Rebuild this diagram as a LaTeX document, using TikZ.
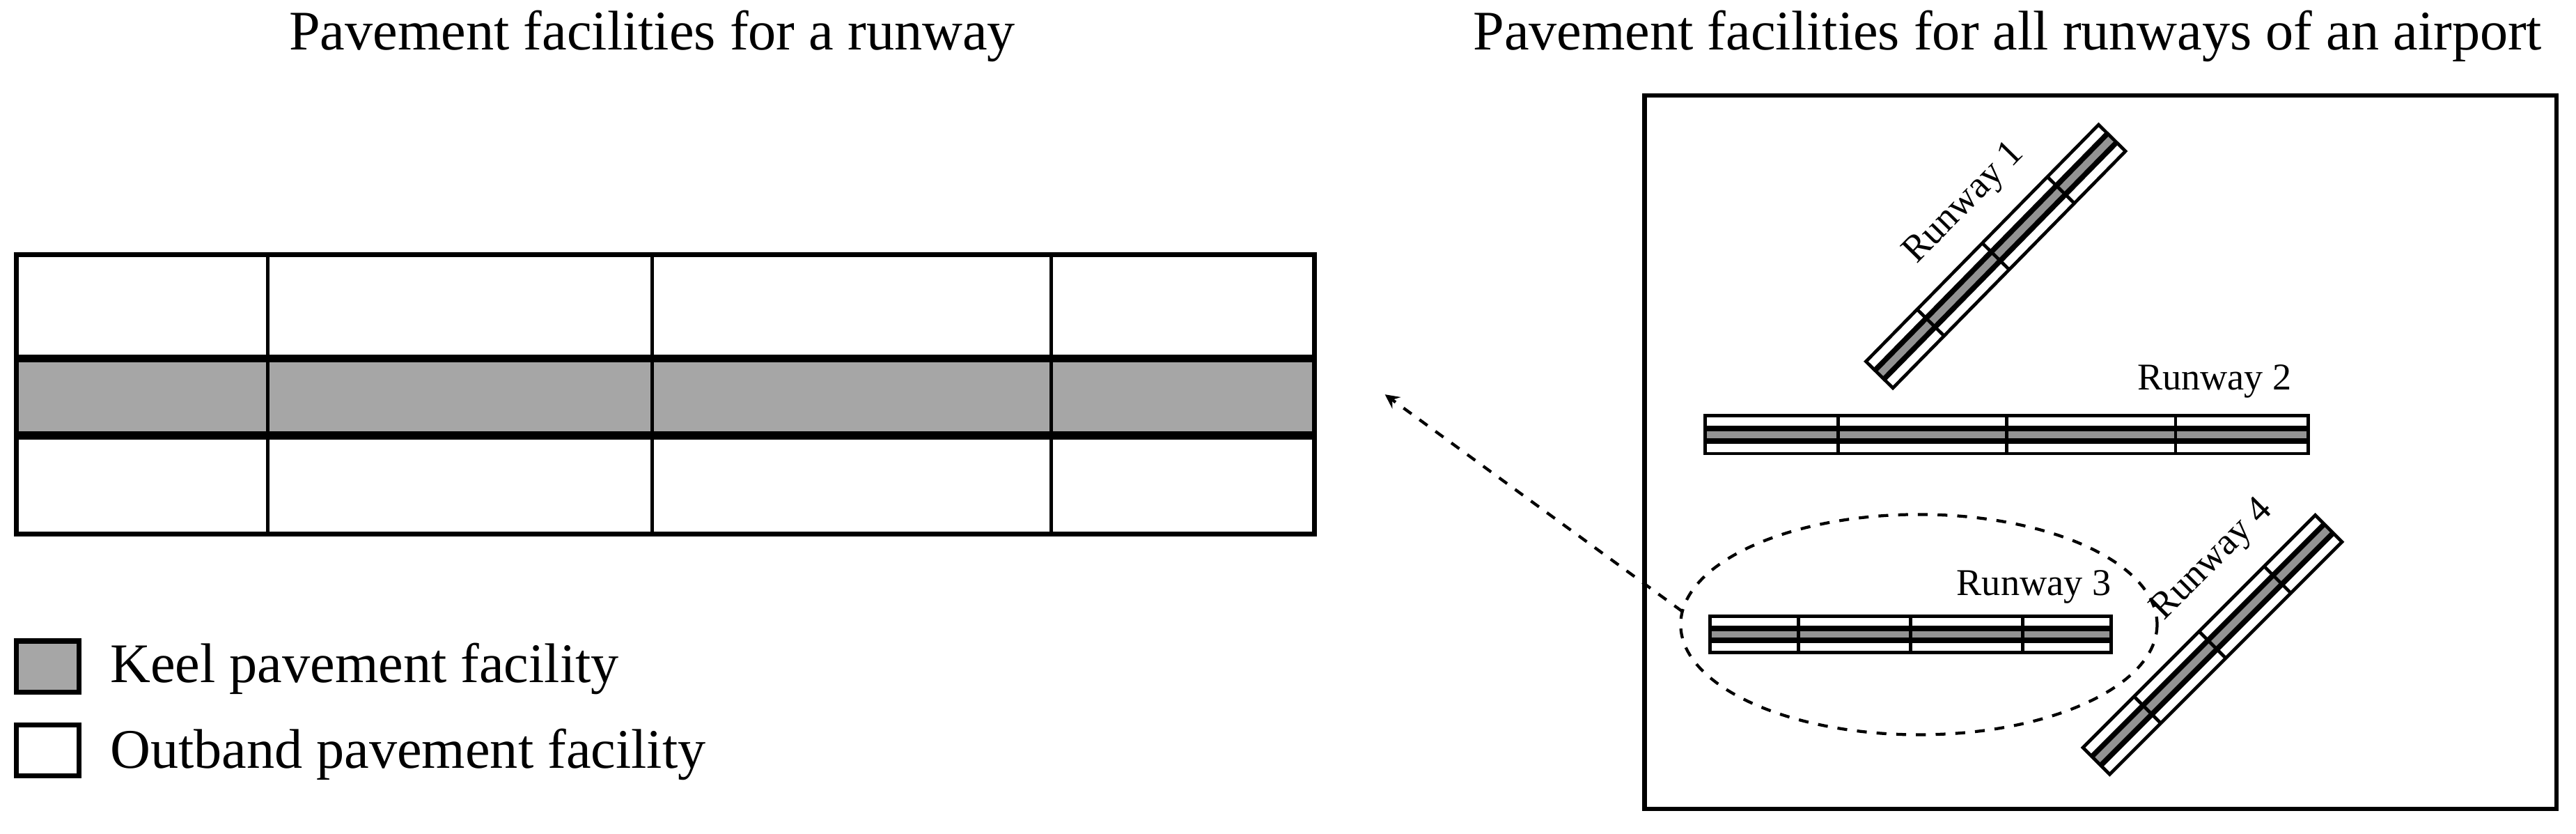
\documentclass[tikz,border=0pt]{standalone}
\usepackage{fontspec}
\setmainfont{Liberation Serif}
\begin{document}
\begin{tikzpicture}[x=0.5pt,y=-0.5pt,
  ttl/.style={font=\fontsize{17}{19}\selectfont},
  lbl/.style={font=\fontsize{11.5}{13}\selectfont},
  pics/rw/.style args={#1/#2}{code={
    \fill[white] (0,-#2/2) rectangle (#1,#2/2);
    \fill[gray!85] (0,-#2/6) rectangle (#1,#2/6);
    \draw[line width=1.6pt] (0,-#2/6) -- (#1,-#2/6) (0,#2/6) -- (#1,#2/6);
    \foreach \f in {0.22,0.5,0.78} \draw[line width=1pt] (\f*#1,-#2/2) -- (\f*#1,#2/2);
    \draw[line width=1pt] (0,-#2/2) rectangle (#1,#2/2);
  }}]
\useasboundingbox (0,0) rectangle (1568,507.4);
\node[ttl] (t1) at (397,22) {Pavement facilities for a runway};
\node[ttl] (t2) at (1222,22) {Pavement facilities for all runways of an airport};
% main grid
\fill[gray!70] (10,218) rectangle (800,265);
\foreach \x in {163,397,640} \draw[line width=1.1pt] (\x,155) -- (\x,325);
\draw[line width=2.4pt] (10,218) -- (800,218) (10,265) -- (800,265);
\draw[line width=1.5pt] (10,155) rectangle (800,325);
% legend
\draw[line width=1.5pt,fill=gray!70] (10,390) rectangle (48,421);
\draw[line width=1.5pt] (10,441) rectangle (48,472);
\node[ttl,anchor=west] (l1) at (60,407) {Keel pavement facility};
\node[ttl,anchor=west] (l2) at (60,459) {Outband pavement facility};
% airport
\draw[line width=1.3pt] (1001,58) rectangle (1556,492);
\pic at (1038,264.5) {rw=367/23};
\pic at (1041,386) {rw=244/22};
\pic[rotate=45.5] at (1144,228) {rw=202/23};
\pic[rotate=45] at (1276,463) {rw=200/23};
\node[lbl,rotate=45.5,inner sep=1pt] (r1) at (1196,124) {Runway 1};
\node[lbl] (r2) at (1348,232) {Runway 2};
\node[lbl] (r3) at (1238,357) {Runway 3};
\node[lbl,rotate=45,inner sep=1pt] (r4) at (1347,341) {Runway 4};
\draw[dashed,line width=0.9pt] (1168,380) ellipse [x radius=145, y radius=67];
\coordinate (e) at (1024,372);
\coordinate (a) at (843,240);
\draw[dashed,line width=0.9pt,-stealth] (e) -- (a);
\end{tikzpicture}
\end{document}
